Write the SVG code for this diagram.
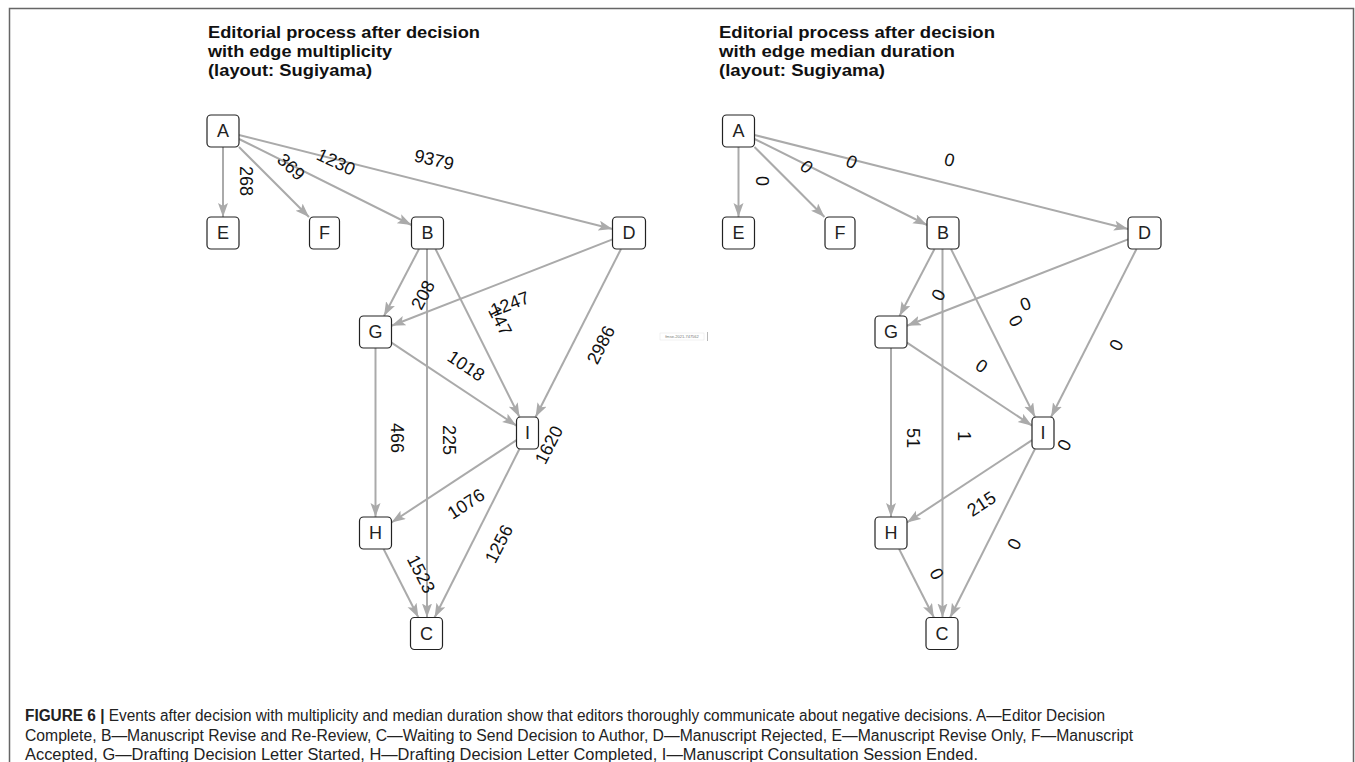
<svg xmlns="http://www.w3.org/2000/svg" width="1355" height="762" viewBox="0 0 1355 762">
<style>
.title{font-family:"Liberation Sans",Arial,sans-serif;font-weight:bold;font-size:17px;fill:#111}
.node rect{fill:#fff;stroke:#222;stroke-width:1.2}
.node text{font-family:"Liberation Sans",Arial,sans-serif;font-size:18px;fill:#222;text-anchor:middle;dominant-baseline:central}
.edge{stroke:#aaaaaa;stroke-width:2;fill:none;marker-end:url(#arr)}
.lbl{font-family:"Liberation Sans",Arial,sans-serif;font-size:18px;fill:#111;text-anchor:middle;dominant-baseline:central}
.cap{font-family:"Liberation Sans",Arial,sans-serif;font-size:16px;fill:#222}
</style>
<defs>
<marker id="arr" markerUnits="userSpaceOnUse" markerWidth="15" markerHeight="12" refX="14" refY="5" orient="auto">
<path d="M0,0 L14,5 L0,10 L3,5 Z" fill="#aaaaaa"/>
</marker>
</defs>
<rect width="1355" height="762" fill="#fff"/>
<path d="M9.5,762 V8.5 H1353.5 V762" fill="none" stroke="#666" stroke-width="1.5"/>

<g id="title-left" class="title">
<text x="208" y="37.5" textLength="272" lengthAdjust="spacingAndGlyphs">Editorial process after decision</text>
<text x="208" y="56.5" textLength="184" lengthAdjust="spacingAndGlyphs">with edge multiplicity</text>
<text x="208" y="75.5" textLength="164" lengthAdjust="spacingAndGlyphs">(layout: Sugiyama)</text>
</g>
<g id="title-right" class="title">
<text x="719" y="37.5" textLength="276" lengthAdjust="spacingAndGlyphs">Editorial process after decision</text>
<text x="719" y="56.5" textLength="236" lengthAdjust="spacingAndGlyphs">with edge median duration</text>
<text x="719" y="75.5" textLength="166" lengthAdjust="spacingAndGlyphs">(layout: Sugiyama)</text>
</g>

<!-- LEFT GRAPH -->
<g id="connectors-left">
<line class="edge" x1="223" y1="147" x2="223" y2="217"/>
<line class="edge" x1="239" y1="147" x2="309" y2="217"/>
<line class="edge" x1="239" y1="139" x2="411.5" y2="225"/>
<line class="edge" x1="239" y1="135" x2="612.5" y2="229"/>
<line class="edge" x1="419" y1="249" x2="384" y2="316"/>
<line class="edge" x1="427" y1="249" x2="427" y2="617.5"/>
<line class="edge" x1="435.5" y1="249" x2="519.5" y2="417"/>
<line class="edge" x1="612.5" y1="239.4" x2="391.5" y2="325.8"/>
<line class="edge" x1="621" y1="249" x2="535.6" y2="417"/>
<line class="edge" x1="391.5" y1="342.6" x2="516.5" y2="425.7"/>
<line class="edge" x1="375.5" y1="348" x2="375.5" y2="517"/>
<line class="edge" x1="516.5" y1="440.2" x2="391.5" y2="522.5"/>
<line class="edge" x1="519.4" y1="449" x2="434.6" y2="617.5"/>
<line class="edge" x1="383.6" y1="549" x2="418.4" y2="617.5"/>
</g>
<g id="edge-labels-left" class="lbl">
<text transform="translate(246,181) rotate(90)">268</text>
<text transform="translate(291,167) rotate(44)">369</text>
<text transform="translate(336,162) rotate(25)">1230</text>
<text transform="translate(434,160) rotate(13)">9379</text>
<text transform="translate(423,295) rotate(-62)">208</text>
<text transform="translate(510,304) rotate(-21)">1247</text>
<text transform="translate(500,321) rotate(63)">147</text>
<text transform="translate(601,345) rotate(-63)">2986</text>
<text transform="translate(466,366) rotate(34)">1018</text>
<text transform="translate(397,438) rotate(90)">466</text>
<text transform="translate(449,440) rotate(90)">225</text>
<text transform="translate(466,504) rotate(-33)">1076</text>
<text transform="translate(499,544) rotate(-63)">1256</text>
<text transform="translate(549,445) rotate(-63)">1620</text>
<text transform="translate(421,574) rotate(63)">1523</text>
</g>
<g id="L-A" class="node"><rect x="207" y="115" width="32" height="32" rx="4"/><text x="223" y="131">A</text></g>
<g id="L-E" class="node"><rect x="207" y="217" width="32" height="32" rx="4"/><text x="223" y="233">E</text></g>
<g id="L-F" class="node"><rect x="309.5" y="217" width="30" height="32" rx="4"/><text x="324.5" y="233">F</text></g>
<g id="L-B" class="node"><rect x="411.5" y="217" width="32" height="32" rx="4"/><text x="427.5" y="233">B</text></g>
<g id="L-D" class="node"><rect x="612.5" y="217" width="33" height="32" rx="4"/><text x="629" y="233">D</text></g>
<g id="L-G" class="node"><rect x="359.5" y="316" width="32" height="32" rx="4"/><text x="375.5" y="332">G</text></g>
<g id="L-I" class="node"><rect x="516.5" y="417" width="22" height="32" rx="4"/><text x="527.5" y="433">I</text></g>
<g id="L-H" class="node"><rect x="359.5" y="517" width="32" height="32" rx="4"/><text x="375.5" y="533">H</text></g>
<g id="L-C" class="node"><rect x="410.5" y="617.5" width="32" height="32" rx="4"/><text x="426.5" y="633.5">C</text></g>

<!-- RIGHT GRAPH -->
<g id="connectors-right" transform="translate(515.5,0)">
<line class="edge" x1="223" y1="147" x2="223" y2="217"/>
<line class="edge" x1="239" y1="147" x2="309" y2="217"/>
<line class="edge" x1="239" y1="139" x2="411.5" y2="225"/>
<line class="edge" x1="239" y1="135" x2="612.5" y2="229"/>
<line class="edge" x1="419" y1="249" x2="384" y2="316"/>
<line class="edge" x1="427" y1="249" x2="427" y2="617.5"/>
<line class="edge" x1="435.5" y1="249" x2="519.5" y2="417"/>
<line class="edge" x1="612.5" y1="239.4" x2="391.5" y2="325.8"/>
<line class="edge" x1="621" y1="249" x2="535.6" y2="417"/>
<line class="edge" x1="391.5" y1="342.6" x2="516.5" y2="425.7"/>
<line class="edge" x1="375.5" y1="348" x2="375.5" y2="517"/>
<line class="edge" x1="516.5" y1="440.2" x2="391.5" y2="522.5"/>
<line class="edge" x1="519.4" y1="449" x2="434.6" y2="617.5"/>
<line class="edge" x1="383.6" y1="549" x2="418.4" y2="617.5"/>
</g>
<g id="edge-labels-right" class="lbl" transform="translate(515.5,0)">
<text transform="translate(246,181) rotate(90)">0</text>
<text transform="translate(291,167) rotate(44)">0</text>
<text transform="translate(336,162) rotate(25)">0</text>
<text transform="translate(434,160) rotate(13)">0</text>
<text transform="translate(423,295) rotate(-62)">0</text>
<text transform="translate(510,304) rotate(-21)">0</text>
<text transform="translate(500,321) rotate(63)">0</text>
<text transform="translate(601,345) rotate(-63)">0</text>
<text transform="translate(466,366) rotate(34)">0</text>
<text transform="translate(397,438) rotate(90)">51</text>
<text transform="translate(448,436) rotate(90)">1</text>
<text transform="translate(466,504) rotate(-33)">215</text>
<text transform="translate(499,544) rotate(-63)">0</text>
<text transform="translate(549,445) rotate(-63)">0</text>
<text transform="translate(421,574) rotate(63)">0</text>
</g>
<g transform="translate(515.5,0)">
<g id="R-A" class="node"><rect x="207" y="115" width="32" height="32" rx="4"/><text x="223" y="131">A</text></g>
<g id="R-E" class="node"><rect x="207" y="217" width="32" height="32" rx="4"/><text x="223" y="233">E</text></g>
<g id="R-F" class="node"><rect x="309.5" y="217" width="30" height="32" rx="4"/><text x="324.5" y="233">F</text></g>
<g id="R-B" class="node"><rect x="411.5" y="217" width="32" height="32" rx="4"/><text x="427.5" y="233">B</text></g>
<g id="R-D" class="node"><rect x="612.5" y="217" width="33" height="32" rx="4"/><text x="629" y="233">D</text></g>
<g id="R-G" class="node"><rect x="359.5" y="316" width="32" height="32" rx="4"/><text x="375.5" y="332">G</text></g>
<g id="R-I" class="node"><rect x="516.5" y="417" width="22" height="32" rx="4"/><text x="527.5" y="433">I</text></g>
<g id="R-H" class="node"><rect x="359.5" y="517" width="32" height="32" rx="4"/><text x="375.5" y="533">H</text></g>
<g id="R-C" class="node"><rect x="410.5" y="617.5" width="32" height="32" rx="4"/><text x="426.5" y="633.5">C</text></g>
</g>

<g id="watermark">
<rect x="660" y="333" width="44" height="7" fill="none" stroke="#e4e4e4" stroke-width="0.5"/>
<text x="682" y="338.3" font-family="Liberation Sans, Arial, sans-serif" font-size="4" fill="#777" text-anchor="middle">fmse-2021-747562</text>
<line x1="707.5" y1="332" x2="707.5" y2="341" stroke="#999" stroke-width="0.7"/>
</g>

<g id="caption" class="cap">
<text x="25" y="720.5" textLength="1080" lengthAdjust="spacingAndGlyphs"><tspan font-weight="bold">FIGURE 6 |</tspan> Events after decision with multiplicity and median duration show that editors thoroughly communicate about negative decisions. A—Editor Decision</text>
<text x="25" y="740.5" textLength="1108" lengthAdjust="spacingAndGlyphs">Complete, B—Manuscript Revise and Re-Review, C—Waiting to Send Decision to Author, D—Manuscript Rejected, E—Manuscript Revise Only, F—Manuscript</text>
<text x="25" y="759.5" textLength="953" lengthAdjust="spacingAndGlyphs">Accepted, G—Drafting Decision Letter Started, H—Drafting Decision Letter Completed, I—Manuscript Consultation Session Ended.</text>
</g>
</svg>
